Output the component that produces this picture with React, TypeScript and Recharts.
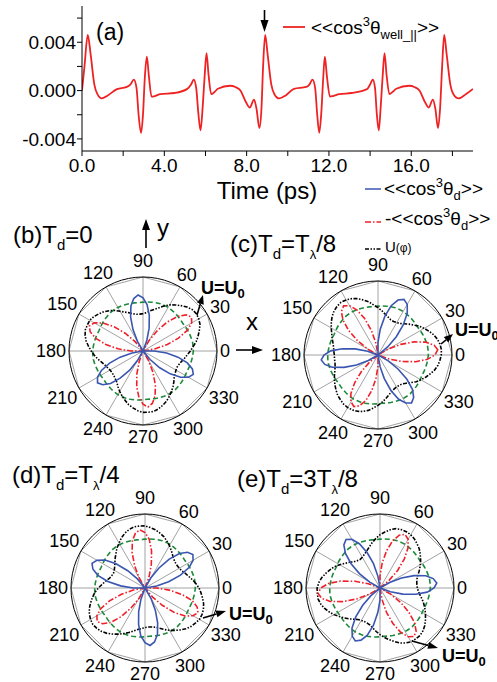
import {
  LineChart, Line, XAxis, YAxis,
  RadarChart, Radar, PolarGrid, PolarAngleAxis, PolarRadiusAxis,
} from 'recharts'

const FONT = 'Liberation Sans, Arial, Helvetica, sans-serif'

// panel (a): time trace
const timePs = [
  0, 0.12, 0.28, 0.42, 0.6, 0.75, 0.96, 1.25, 1.7, 2.15, 2.35, 2.52, 2.65, 2.75, 2.87, 2.97, 3.05, 3.15, 3.25, 3.38,
  3.55, 3.8, 4.5, 5.1, 5.3, 5.43, 5.55, 5.65, 5.76, 5.87, 5.96, 6.05, 6.15, 6.28, 6.45, 6.6, 7.2, 7.45, 7.7, 7.95,
  8.15, 8.36, 8.48, 8.62, 8.72, 8.8, 8.9, 9.02, 9.2, 9.35, 9.58, 9.9, 10.3, 10.9, 11.05, 11.2, 11.33, 11.43, 11.53, 11.63,
  11.72, 11.8, 11.9, 12.05, 12.2, 12.5, 13.1, 13.85, 14.0, 14.13, 14.24, 14.32, 14.42, 14.52, 14.61, 14.7, 14.8, 14.94, 15.1, 15.27,
  15.9, 16.15, 16.4, 16.65, 16.85, 17.05, 17.17, 17.3, 17.4, 17.5, 17.6, 17.72, 17.9, 18.05, 18.3, 18.65, 19.0,
]
const cosWell = [
  0, 0.002, 0.0046, 0.003, 0.0005, -0.0003, -0.00065, -0.0004, 0.00012, 0.00028, 0.0005, 0.0009, 0.0002, -0.002, -0.0035, -0.0018, 0.001, 0.0028, 0.0012, -0.0005,
  -0.00045, -0.0003, -0.0002, 0.00012, 0.0005, 0.0009, 0.0002, -0.0018, -0.0033, -0.0012, 0.0012, 0.0031, 0.0013, -0.0003, -0.0001, 0.00015, 0.0004, 0.0003, 0, -0.0009,
  -0.0014, -0.00075, -0.0015, -0.0031, -0.0015, 0.002, 0.0046, 0.003, 0.0005, -0.0003, -0.00065, -0.0004, 0.00015, 0.0003, 0.0005, 0.0009, 0.0002, -0.002, -0.0035, -0.0018,
  0.001, 0.0028, 0.0012, -0.0005, -0.00045, -0.0003, -0.0002, 0.00012, 0.0005, 0.0009, 0.0002, -0.0018, -0.0033, -0.0012, 0.0012, 0.0031, 0.0013, -0.0003, -0.0001, 0.00015,
  0.0004, 0.0003, 0, -0.0009, -0.0014, -0.00075, -0.0015, -0.0031, -0.0015, 0.002, 0.0046, 0.003, 0.0005, -0.0003, -0.00065, -0.0003, 0.00014,
]
const timeTicks = [0, 2, 4, 6, 8, 10, 12, 14, 16, 18]
const valueTicks = [-0.004, -0.002, 0, 0.002, 0.004, 0.006]

// panels (b)-(e): polar data, every 5 degrees
const angles = [
  0, 5, 10, 15, 20, 25, 30, 35, 40, 45, 50, 55, 60, 65, 70, 75, 80, 85, 90, 95, 100, 105, 110, 115,
  120, 125, 130, 135, 140, 145, 150, 155, 160, 165, 170, 175, 180, 185, 190, 195, 200, 205, 210, 215, 220, 225, 230, 235,
  240, 245, 250, 255, 260, 265, 270, 275, 280, 285, 290, 295, 300, 305, 310, 315, 320, 325, 330, 335, 340, 345, 350, 355,
]
const gridAngles = [0, 30, 60, 90, 120, 150, 180, 210, 240, 270, 300, 330]

const cos3B = [
  0, -0.16, -0.34, -0.51, -0.66, -0.76, -0.8, -0.76, -0.66, -0.51, -0.34, -0.16,
  0, 0.15, 0.32, 0.49, 0.63, 0.72, 0.76, 0.72, 0.63, 0.49, 0.32, 0.15,
  0, -0.16, -0.34, -0.51, -0.66, -0.76, -0.8, -0.76, -0.66, -0.51, -0.34, -0.16,
  0, 0.15, 0.32, 0.48, 0.62, 0.71, 0.75, 0.71, 0.62, 0.48, 0.32, 0.15,
  0, -0.15, -0.32, -0.49, -0.63, -0.72, -0.76, -0.72, -0.63, -0.49, -0.32, -0.15,
  0, 0.15, 0.32, 0.48, 0.62, 0.71, 0.75, 0.71, 0.62, 0.48, 0.32, 0.15,
]
const cos3C = [
  -0.81, -0.77, -0.67, -0.52, -0.34, -0.16, 0, 0.17, 0.35, 0.53, 0.69, 0.79,
  0.83, 0.79, 0.69, 0.53, 0.35, 0.17, 0, -0.16, -0.34, -0.52, -0.67, -0.77,
  -0.81, -0.77, -0.67, -0.52, -0.34, -0.16, 0, 0.15, 0.32, 0.49, 0.64, 0.73,
  0.77, 0.73, 0.64, 0.49, 0.32, 0.15, 0, -0.15, -0.32, -0.49, -0.64, -0.73,
  -0.77, -0.73, -0.64, -0.49, -0.32, -0.15, 0, 0.16, 0.33, 0.51, 0.66, 0.75,
  0.79, 0.75, 0.66, 0.51, 0.33, 0.16, 0, -0.16, -0.34, -0.52, -0.67, -0.77,
]
const cos3D = [
  0, 0.16, 0.33, 0.51, 0.66, 0.75, 0.79, 0.75, 0.66, 0.51, 0.33, 0.16,
  0, -0.16, -0.33, -0.51, -0.66, -0.75, -0.79, -0.75, -0.66, -0.51, -0.33, -0.16,
  0, 0.16, 0.33, 0.51, 0.66, 0.75, 0.79, 0.75, 0.66, 0.51, 0.33, 0.16,
  0, -0.16, -0.33, -0.51, -0.66, -0.75, -0.79, -0.75, -0.66, -0.51, -0.33, -0.16,
  0, 0.16, 0.33, 0.5, 0.65, 0.74, 0.78, 0.74, 0.65, 0.5, 0.33, 0.16,
  0, -0.16, -0.33, -0.51, -0.66, -0.75, -0.79, -0.75, -0.66, -0.51, -0.33, -0.16,
]
const cos3E = [
  0.77, 0.73, 0.64, 0.49, 0.32, 0.15, 0, -0.16, -0.34, -0.51, -0.66, -0.76,
  -0.8, -0.76, -0.66, -0.51, -0.34, -0.16, 0, 0.16, 0.34, 0.51, 0.66, 0.76,
  0.8, 0.76, 0.66, 0.51, 0.34, 0.16, 0, -0.17, -0.35, -0.54, -0.7, -0.8,
  -0.84, -0.8, -0.7, -0.54, -0.35, -0.17, 0, 0.16, 0.33, 0.51, 0.66, 0.75,
  0.79, 0.75, 0.66, 0.51, 0.33, 0.16, 0, -0.16, -0.34, -0.51, -0.66, -0.76,
  -0.8, -0.76, -0.66, -0.51, -0.34, -0.16, 0, 0.15, 0.32, 0.49, 0.64, 0.73,
]

const uB = [
  0.68, 0.73, 0.77, 0.81, 0.85, 0.87, 0.88, 0.87, 0.84, 0.8, 0.76, 0.72,
  0.67, 0.62, 0.58, 0.55, 0.52, 0.505, 0.5, 0.505, 0.52, 0.55, 0.58, 0.62,
  0.67, 0.71, 0.75, 0.78, 0.81, 0.83, 0.83, 0.83, 0.81, 0.78, 0.74, 0.7,
  0.66, 0.62, 0.58, 0.55, 0.53, 0.515, 0.51, 0.515, 0.53, 0.55, 0.59, 0.63,
  0.67, 0.71, 0.75, 0.78, 0.81, 0.83, 0.83, 0.83, 0.81, 0.78, 0.75, 0.71,
  0.67, 0.63, 0.59, 0.55, 0.53, 0.515, 0.51, 0.52, 0.54, 0.57, 0.6, 0.64,
]
const uC = [
  0.86, 0.85, 0.83, 0.8, 0.76, 0.72, 0.68, 0.63, 0.59, 0.55, 0.52, 0.505,
  0.5, 0.505, 0.53, 0.56, 0.6, 0.64, 0.68, 0.73, 0.77, 0.81, 0.84, 0.86,
  0.87, 0.86, 0.84, 0.81, 0.77, 0.73, 0.69, 0.66, 0.63, 0.61, 0.6, 0.59,
  0.59, 0.59, 0.6, 0.62, 0.65, 0.68, 0.71, 0.74, 0.77, 0.79, 0.81, 0.82,
  0.82, 0.81, 0.79, 0.76, 0.72, 0.68, 0.64, 0.6, 0.56, 0.53, 0.51, 0.5,
  0.5, 0.51, 0.54, 0.58, 0.63, 0.67, 0.71, 0.75, 0.79, 0.82, 0.84, 0.855,
]
const uD = [
  0.69, 0.65, 0.61, 0.58, 0.55, 0.535, 0.53, 0.535, 0.55, 0.58, 0.62, 0.66,
  0.7, 0.74, 0.77, 0.8, 0.82, 0.84, 0.84, 0.84, 0.82, 0.79, 0.75, 0.7,
  0.66, 0.61, 0.57, 0.53, 0.5, 0.48, 0.47, 0.48, 0.5, 0.54, 0.58, 0.63,
  0.68, 0.72, 0.76, 0.8, 0.83, 0.85, 0.86, 0.85, 0.83, 0.8, 0.76, 0.72,
  0.68, 0.64, 0.6, 0.57, 0.55, 0.535, 0.53, 0.535, 0.55, 0.58, 0.62, 0.66,
  0.7, 0.74, 0.78, 0.81, 0.83, 0.85, 0.85, 0.84, 0.82, 0.79, 0.76, 0.73,
]
const uE = [
  0.5, 0.505, 0.52, 0.55, 0.59, 0.63, 0.67, 0.71, 0.75, 0.78, 0.81, 0.83,
  0.84, 0.84, 0.83, 0.8, 0.76, 0.72, 0.67, 0.62, 0.57, 0.53, 0.5, 0.48,
  0.47, 0.48, 0.5, 0.54, 0.58, 0.63, 0.68, 0.72, 0.76, 0.8, 0.83, 0.85,
  0.85, 0.85, 0.83, 0.8, 0.76, 0.72, 0.67, 0.63, 0.59, 0.55, 0.52, 0.505,
  0.5, 0.505, 0.52, 0.55, 0.59, 0.63, 0.67, 0.71, 0.75, 0.79, 0.82, 0.84,
  0.84, 0.84, 0.82, 0.79, 0.75, 0.71, 0.67, 0.63, 0.59, 0.55, 0.52, 0.505,
]
const green = [
  0.68, 0.68, 0.675, 0.67, 0.665, 0.66, 0.655, 0.66, 0.665, 0.67, 0.675, 0.68,
  0.68, 0.68, 0.675, 0.67, 0.665, 0.66, 0.655, 0.66, 0.665, 0.67, 0.675, 0.68,
  0.68, 0.68, 0.675, 0.67, 0.665, 0.66, 0.655, 0.66, 0.665, 0.67, 0.675, 0.68,
  0.68, 0.68, 0.675, 0.67, 0.665, 0.66, 0.655, 0.66, 0.665, 0.67, 0.675, 0.68,
  0.68, 0.68, 0.675, 0.67, 0.665, 0.66, 0.655, 0.66, 0.665, 0.67, 0.675, 0.68,
  0.68, 0.68, 0.675, 0.67, 0.665, 0.66, 0.655, 0.66, 0.665, 0.67, 0.675, 0.68,
]

const BLUE = '#3a56b0'
const RED = '#f0202a'
const GREEN = '#1c8a38'
const R = 74
const BOX = 240

function angleTick(props: any) {
  const v = Number(props.payload.value)
  if (v % 30 !== 0) return <g />
  const c0 = BOX / 2
  const rad = (v * Math.PI) / 180
  const c = Math.cos(rad)
  const s = Math.sin(rad)
  const label = String(v)
  const gap = 3 + (s > 0.9 ? 7 : s < -0.9 ? 2 : 0)
  const d = R + gap + (Math.abs(c) * label.length * 10) / 2 + Math.abs(s) * 6.5
  return (
    <text x={c0 + d * c} y={c0 - d * s} textAnchor="middle" dominantBaseline="central"
      fontSize={18} fontFamily={FONT} fill="#000">{label}</text>
  )
}

function PolarPanel({ cx, cy, signed, u }: { cx: number; cy: number; signed: number[]; u: number[] }) {
  const rows = angles.map((a, i) => ({
    angle: a,
    pos: Math.max(0, signed[i]),
    neg: Math.max(0, -signed[i]),
    u: u[i],
    g: green[i],
  }))
  return (
    <div style={{ position: 'absolute', left: cx - BOX / 2, top: cy - BOX / 2 }}>
      <RadarChart width={BOX} height={BOX} data={rows} cx={BOX / 2} cy={BOX / 2} outerRadius={R}
        startAngle={0} endAngle={360} margin={{ top: 0, right: 0, bottom: 0, left: 0 }}>
        <PolarGrid polarAngles={gridAngles} polarRadius={[R]} stroke="#8a8a8a" strokeWidth={0.8} />
        <PolarRadiusAxis type="number" domain={[0, 1]} tick={false} axisLine={false} />
        <PolarAngleAxis dataKey="angle" tick={angleTick} tickLine={false}
          axisLine={{ stroke: '#000', strokeWidth: 1 }} axisLineType="circle" />
        <Radar dataKey="g" stroke={GREEN} strokeWidth={1.6} strokeDasharray="5 3" fill="none" fillOpacity={0} dot={false} isAnimationActive={false} />
        <Radar dataKey="u" stroke="#000" strokeWidth={1.6} strokeDasharray="4 1.5 1.5 1.5 1.5 1.5" fill="none" fillOpacity={0} dot={false} isAnimationActive={false} />
        <Radar dataKey="neg" stroke={RED} strokeWidth={1.6} strokeDasharray="6 2 1.5 2" fill="none" fillOpacity={0} dot={false} isAnimationActive={false} />
        <Radar dataKey="pos" stroke={BLUE} strokeWidth={1.6} fill="none" fillOpacity={0} dot={false} isAnimationActive={false} />
      </RadarChart>
    </div>
  )
}

function Arrow({ x1, y1, x2, y2, len = 9, half = 4 }: { x1: number; y1: number; x2: number; y2: number; len?: number; half?: number }) {
  const dx = x2 - x1
  const dy = y2 - y1
  const L = Math.hypot(dx, dy)
  const ux = dx / L
  const uy = dy / L
  const bx = x2 - ux * len
  const by = y2 - uy * len
  const pts = `${x2},${y2} ${bx - uy * half},${by + ux * half} ${bx + uy * half},${by - ux * half}`
  return (
    <g>
      <line x1={x1} y1={y1} x2={bx} y2={by} stroke="#000" strokeWidth={1.6} />
      <polygon points={pts} fill="#000" />
    </g>
  )
}

function UU0({ x, y }: { x: number; y: number }) {
  return (
    <text x={x} y={y} fontSize={18} fontWeight="bold" fontFamily={FONT}>
      U=U<tspan fontSize={13} dy={4}>0</tspan>
    </text>
  )
}

export default function App() {
  const series = timePs.map((t, i) => ({ t, v: cosWell[i] }))
  const tickStyle = { fontSize: 19, fill: '#000', fontFamily: FONT }
  return (
    <div style={{ position: 'absolute', left: 0, top: 0, width: 497, height: 682, overflow: 'hidden', background: '#fff' }}>
      <div style={{ position: 'absolute', left: 0, top: 0 }}>
        <LineChart width={497} height={200} data={series} margin={{ top: 6, right: 24, left: 0, bottom: 0 }}>
          <XAxis dataKey="t" type="number" domain={[0, 19]} ticks={timeTicks} height={49}
            tickFormatter={(v: number) => (v % 4 === 0 ? v.toFixed(1) : '')}
            tick={tickStyle} tickSize={5} tickMargin={3} stroke="#000" allowDataOverflow />
          <XAxis xAxisId="top" orientation="top" type="number" domain={[0, 19]} height={0}
            tick={false} tickLine={false} stroke="#000" />
          <YAxis type="number" domain={[-0.005, 0.007]} ticks={valueTicks} width={82}
            tickFormatter={(v: number) => (Math.abs(v - 0.004) < 1e-9 || Math.abs(v) < 1e-9 || Math.abs(v + 0.004) < 1e-9 ? v.toFixed(3) : '')}
            tick={tickStyle} tickSize={5} tickMargin={1} stroke="#000" allowDataOverflow />
          <YAxis yAxisId="r" orientation="right" mirror type="number" domain={[-0.005, 0.007]} ticks={valueTicks}
            width={0} tickFormatter={() => ''} tickSize={5} stroke="#000" allowDataOverflow />
          <Line type="monotone" dataKey="v" stroke="#ee2222" strokeWidth={1.8} dot={false} isAnimationActive={false} />
        </LineChart>
      </div>

      <PolarPanel cx={142.5} cy={351} signed={cos3B} u={uB} />
      <PolarPanel cx={377.5} cy={354.5} signed={cos3C} u={uC} />
      <PolarPanel cx={144.5} cy={588} signed={cos3D} u={uD} />
      <PolarPanel cx={379.5} cy={588} signed={cos3E} u={uE} />

      <svg width={497} height={682} style={{ position: 'absolute', left: 0, top: 0, pointerEvents: 'none' }}
        fontFamily={FONT} fill="#000">
        <text x={96} y={40} fontSize={23}>(a)</text>
        <Arrow x1={264.5} y1={10} x2={264.5} y2={32} len={12} half={4} />
        <line x1={283} y1={27} x2={305} y2={27} stroke="#ee2222" strokeWidth={1.8} />
        <text x={311} y={34} fontSize={19}>
          {'<<cos'}<tspan fontSize={13} dy={-8}>3</tspan><tspan dy={8}>θ</tspan>
          <tspan fontSize={13} dy={5}>well_||</tspan><tspan dy={-5}>{'>>'}</tspan>
        </text>
        <text x={267} y={199} fontSize={24} textAnchor="middle">Time (ps)</text>

        <line x1={365} y1={189} x2={381} y2={189} stroke={BLUE} strokeWidth={1.5} />
        <text x={384} y={195} fontSize={19}>
          {'<<cos'}<tspan fontSize={13} dy={-8}>3</tspan><tspan dy={8}>θ</tspan>
          <tspan fontSize={13} dy={5}>d</tspan><tspan dy={-5}>{'>>'}</tspan>
        </text>
        <line x1={365} y1={222} x2={381} y2={222} stroke={RED} strokeWidth={1.5} strokeDasharray="6 2 1.5 2" />
        <text x={385} y={225} fontSize={19}>
          {'-<<cos'}<tspan fontSize={13} dy={-8}>3</tspan><tspan dy={8}>θ</tspan>
          <tspan fontSize={13} dy={5}>d</tspan><tspan dy={-5}>{'>>'}</tspan>
        </text>
        <line x1={365} y1={249} x2={381} y2={249} stroke="#000" strokeWidth={1.5} strokeDasharray="4 1.5 1.5 1.5 1.5 1.5" />
        <text x={385} y={252} fontSize={15}>U<tspan fontSize={12}>(φ)</tspan></text>

        <text x={13} y={243} fontSize={24}>
          (b)T<tspan fontSize={15} dy={7}>d</tspan><tspan dy={-7}>=0</tspan>
        </text>
        <Arrow x1={146} y1={248} x2={146} y2={219} len={11} half={4} />
        <text x={157} y={236} fontSize={24}>y</text>
        <text x={246} y={330} fontSize={24}>x</text>
        <Arrow x1={236} y1={350} x2={263} y2={350} len={11} half={4} />

        <text x={230} y={252} fontSize={24}>
          (c)T<tspan fontSize={15} dy={7}>d</tspan><tspan dy={-7}>=T</tspan>
          <tspan fontSize={13} dy={7}>λ</tspan><tspan dy={-7}>/8</tspan>
        </text>
        <text x={12} y={483} fontSize={24}>
          (d)T<tspan fontSize={15} dy={7}>d</tspan><tspan dy={-7}>=T</tspan>
          <tspan fontSize={13} dy={7}>λ</tspan><tspan dy={-7}>/4</tspan>
        </text>
        <text x={237} y={487} fontSize={24}>
          (e)T<tspan fontSize={15} dy={7}>d</tspan><tspan dy={-7}>=3T</tspan>
          <tspan fontSize={13} dy={7}>λ</tspan><tspan dy={-7}>/8</tspan>
        </text>

        <Arrow x1={197} y1={315} x2={203} y2={295} len={9} half={3.5} />
        <UU0 x={201} y={294} />
        <Arrow x1={441} y1={344} x2={453} y2={334} len={9} half={3.5} />
        <UU0 x={455} y={336} />
        <Arrow x1={203} y1={618} x2={226} y2={611} len={10} half={3.5} />
        <UU0 x={229} y={620} />
        <Arrow x1={412} y1={641} x2={438} y2={648} len={10} half={3.5} />
        <UU0 x={442} y={662} />
      </svg>
    </div>
  )
}
